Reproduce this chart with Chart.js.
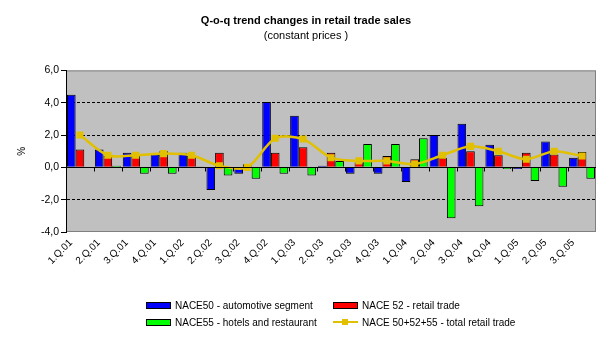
<!DOCTYPE html>
<html>
<head>
<meta charset="utf-8">
<title>Q-o-q trend changes in retail trade sales</title>
<script src="https://cdn.jsdelivr.net/npm/chart.js@4.4.1/dist/chart.umd.min.js"></script>
<style>
    body { margin: 0; background: #fff; font-family: "Liberation Sans", Arial, sans-serif; }
    #wrap { position: relative; width: 609px; height: 339px; }
    #myChart { position: absolute; left: 0; top: 0; }
    .legend-item { position: absolute; height: 14px; display: flex; align-items: center; font-size: 10px; color: #000; white-space: nowrap; }
    .swatch { width: 23px; height: 5px; border: 1px solid #000; margin-right: 4px; }
    .line-swatch { position: relative; width: 25px; height: 14px; margin-right: 4px; }
    .line-swatch .ln { position: absolute; left: 0; right: 0; top: 6px; height: 2px; }
    .line-swatch .mk { position: absolute; left: 9px; top: 4px; width: 6px; height: 6px; }
</style>
</head>
<body>
<div id="wrap">
    <canvas id="myChart" width="609" height="339"></canvas>
    <div id="legend"></div>
</div>
<script>
const quarters = ['1.Q.01', '2.Q.01', '3.Q.01', '4.Q.01', '1.Q.02', '2.Q.02', '3.Q.02', '4.Q.02',
    '1.Q.03', '2.Q.03', '3.Q.03', '4.Q.03', '1.Q.04', '2.Q.04', '3.Q.04', '4.Q.04', '1.Q.05', '2.Q.05', '3.Q.05'];

// q-o-q changes in %
const nace50 = [4.5, 1.1, 0.9, 0.8, 0.9, -1.4, -0.4, 4.05, 3.2, 0.1, -0.4, -0.4, -0.9, 2.0, 2.7, 1.4, -0.1, 1.6, 0.6];
const nace52 = [1.1, 0.7, 0.7, 1.0, 0.7, 0.9, 0.2, 0.9, 1.25, 0.9, 0.3, 0.7, 0.5, 0.6, 1.0, 0.75, 0.9, 0.8, 0.95];
const nace55 = [0.0, 0.1, -0.4, -0.4, 0.05, -0.5, -0.7, -0.4, -0.5, 0.4, 1.45, 1.45, 1.8, -3.15, -2.4, -0.1, -0.85, -1.2, -0.7];
const totalRetail = [2.0, 0.75, 0.75, 0.85, 0.75, 0.1, 0.0, 1.8, 1.75, 0.6, 0.4, 0.4, 0.2, 0.75, 1.3, 1.0, 0.5, 1.0, 0.7];

const yTicks = [-4, -2, 0, 2, 4, 6];

Chart.defaults.font.family = "'Liberation Sans', Arial, sans-serif";
Chart.defaults.color = '#000';

// gray plot area with a gray frame, like the old Excel charts
const plotArea = {
    id: 'plotArea',
    beforeDraw(chart) {
        const { ctx, chartArea: a } = chart;
        ctx.save();
        ctx.fillStyle = '#C0C0C0';
        ctx.fillRect(a.left, a.top, a.right - a.left, a.bottom - a.top);
        ctx.strokeStyle = '#808080';
        ctx.lineWidth = 1;
        ctx.strokeRect(a.left + 0.5, a.top + 0.5, a.right - a.left - 1, a.bottom - a.top - 1);
        ctx.restore();
    },
    afterDatasetsDraw(chart) {
        // small category ticks on the zero axis
        const { ctx } = chart;
        const x = chart.scales.x;
        const y0 = Math.round(chart.scales.y.getPixelForValue(0)) + 0.5;
        ctx.save();
        ctx.strokeStyle = '#000';
        ctx.lineWidth = 1;
        ctx.beginPath();
        ctx.moveTo(chart.chartArea.left, y0);
        ctx.lineTo(chart.chartArea.right, y0);
        for (let i = 1; i < quarters.length; i++) {
            const px = Math.round((x.getPixelForValue(i - 1) + x.getPixelForValue(i)) / 2) + 0.5;
            ctx.moveTo(px, y0);
            ctx.lineTo(px, y0 + 4);
        }
        ctx.stroke();
        ctx.restore();
    }
};

const ctx = document.getElementById('myChart').getContext('2d');
const chart = new Chart(ctx, {
    type: 'bar',
    data: {
        labels: quarters,
        datasets: [{
            label: 'NACE50 - automotive segment',
            data: nace50,
            backgroundColor: '#0000FF',
            borderColor: '#000',
            borderWidth: 1,
            order: 1
        }, {
            label: 'NACE 52 - retail trade',
            data: nace52,
            backgroundColor: '#FF0000',
            borderColor: '#000',
            borderWidth: 1,
            order: 1
        }, {
            label: 'NACE55 - hotels and restaurant',
            data: nace55,
            backgroundColor: '#00FF00',
            borderColor: '#000',
            borderWidth: 1,
            order: 1
        }, {
            type: 'line',
            label: 'NACE 50+52+55 - total retail trade',
            data: totalRetail,
            borderColor: '#E0C000',
            backgroundColor: '#E0C000',
            borderWidth: 2.5,
            pointStyle: 'rect',
            pointRadius: 5,
            pointBorderWidth: 0,
            tension: 0.3,
            order: 0
        }]
    },
    options: {
        responsive: false,
        animation: false,
        datasets: {
            bar: { categoryPercentage: 0.93, barPercentage: 1.0 }
        },
        layout: { padding: { top: 0, right: 13, bottom: 57, left: 16 } },
        plugins: {
            legend: { display: false },
            tooltip: { enabled: false },
            title: {
                display: true,
                text: 'Q-o-q trend changes in retail trade sales',
                font: { size: 11, weight: 'bold' },
                padding: { top: 14, bottom: 1 }
            },
            subtitle: {
                display: true,
                text: '(constant prices )',
                font: { size: 11 },
                color: '#000',
                padding: { top: 1, bottom: 28 }
            }
        },
        scales: {
            x: {
                offset: true,
                grid: { display: false },
                border: { display: false },
                ticks: {
                    font: { size: 10 },
                    minRotation: 45,
                    maxRotation: 45,
                    labelOffset: -9,
                    padding: -3,
                    autoSkip: false
                },
                afterFit(scale) { scale.height = 50; }
            },
            y: {
                min: -4,
                max: 6,
                afterBuildTicks(scale) { scale.ticks = yTicks.map(v => ({ value: v })); },
                ticks: {
                    font: { size: 10.5 },
                    padding: 2,
                    callback: v => v.toFixed(1).replace('.', ',')
                },
                grid: {
                    color: c => (c.tick && (c.tick.value === 6 || c.tick.value === -4)) ? 'rgba(0,0,0,0)' : '#000',
                    tickColor: '#000',
                    tickLength: 5
                },
                border: {
                    display: true,
                    color: '#000',
                    width: 1,
                    dash: c => (c.tick && c.tick.value !== 0) ? [3, 2] : []
                },
                title: {
                    display: true,
                    text: '%',
                    font: { size: 10 },
                    padding: { top: 0, bottom: 0 }
                },
                afterFit(scale) { scale.width = 50; }
            }
        }
    },
    plugins: [plotArea]
});

// legend in two columns like the original
function renderLegend() {
    const legend = document.getElementById('legend');
    legend.innerHTML = '';
    const slots = [[146, 298], [333, 298], [146, 315], [333, 315]];
    chart.data.datasets.forEach((ds, k) => {
        const item = document.createElement('div');
        item.className = 'legend-item';
        item.style.left = slots[k][0] + 'px';
        item.style.top = slots[k][1] + 'px';
        const sw = document.createElement('div');
        if (ds.type === 'line') {
            sw.className = 'line-swatch';
            sw.innerHTML = '<div class="ln"></div><div class="mk"></div>';
            sw.querySelector('.ln').style.background = ds.borderColor;
            sw.querySelector('.mk').style.background = ds.borderColor;
        } else {
            sw.className = 'swatch';
            sw.style.background = ds.backgroundColor;
        }
        item.appendChild(sw);
        const txt = document.createElement('span');
        txt.textContent = ds.label;
        item.appendChild(txt);
        legend.appendChild(item);
    });
}
renderLegend();
</script>
</body>
</html>
